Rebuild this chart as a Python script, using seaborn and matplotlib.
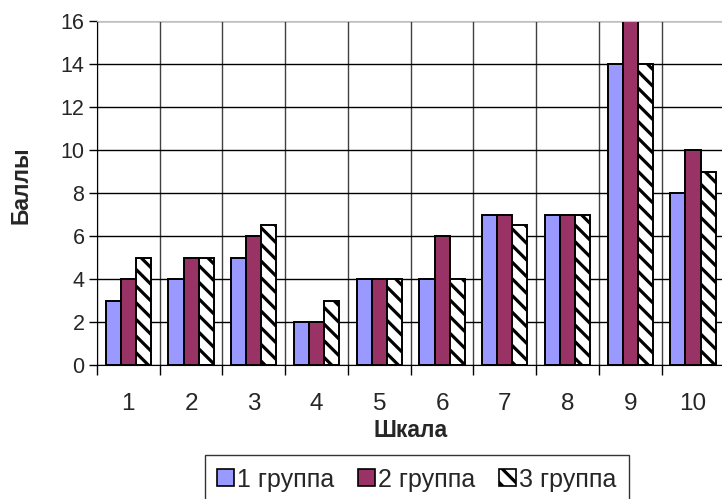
import numpy as np
import pandas as pd
import matplotlib
matplotlib.use('Agg')
import matplotlib.pyplot as plt
from matplotlib.patches import Patch
import seaborn as sns

# Values
scales = ['1', '2', '3', '4', '5', '6', '7', '8', '9', '10']
group1 = [3, 4, 5, 2, 4, 4, 7, 7, 14, 8]
group2 = [4, 5, 6, 2, 4, 6, 7, 7, 16, 10]
group3 = [5, 5, 6.5, 3, 4, 4, 6.5, 7, 14, 9]
groups = ['1 группа', '2 группа', '3 группа']

df = pd.DataFrame({
    'Шкала': scales * 3,
    'Баллы': group1 + group2 + group3,
    'Группа': [groups[0]] * 10 + [groups[1]] * 10 + [groups[2]] * 10,
})

sns.set_style('white')
plt.rcParams['font.family'] = ['Liberation Sans', 'DejaVu Sans']
plt.rcParams['hatch.linewidth'] = 2.3

colors = ['#9999FF', '#993366', '#FFFFFF']
hatch = '\\\\'

fig = plt.figure(figsize=(7.22, 4.99), dpi=100)
ax = fig.add_axes([0.1343, 0.2685, 0.869, 0.689])

sns.barplot(data=df, x='Шкала', y='Баллы', hue='Группа', palette=colors,
            width=0.72, edgecolor='black', linewidth=1.4, saturation=1,
            legend=False, ax=ax)

# hatch the third group
for bar in ax.containers[2]:
    bar.set_hatch(hatch)
    bar.set_edgecolor('black')

ax.set_ylim(0, 16)
ax.set_xlim(-0.5, 9.5)
ax.set_yticks(np.arange(0, 17, 2))
ax.set_xticks(np.arange(-0.5, 10, 1), minor=True)
ax.grid(axis='y', which='major', color='black', linewidth=1)
ax.grid(axis='x', which='minor', color='#404040', linewidth=1)
ax.set_axisbelow(True)

ax.spines['right'].set_visible(False)
ax.spines['top'].set_color('#C0C0C0')
ax.spines['left'].set_color('black')
ax.spines['bottom'].set_color('black')

ax.tick_params(axis='y', which='major', length=6, width=1, color='black',
               labelsize=15.5, left=True, pad=3)
ax.tick_params(axis='x', which='major', length=0, labelsize=17.5, pad=20)
ax.tick_params(axis='x', which='minor', length=7, width=1, color='black',
               bottom=True)

ax.set_xlabel('Шкала', fontsize=16.5, fontweight='bold', labelpad=3)
ax.set_ylabel('Баллы', fontsize=16.5, fontweight='bold')
ax.yaxis.set_label_coords(-0.102, 0.523)

handles = [
    Patch(facecolor=colors[0], edgecolor='black', linewidth=1.2, label=groups[0]),
    Patch(facecolor=colors[1], edgecolor='black', linewidth=1.2, label=groups[1]),
    Patch(facecolor=colors[2], edgecolor='black', linewidth=1.2, hatch=hatch, label=groups[2]),
]
leg = fig.legend(handles=handles, loc='upper center', bbox_to_anchor=(0.5776, 1 - 455 / 499),
                 ncol=3, fontsize=18, frameon=True, fancybox=False,
                 handlelength=0.65, handleheight=0.65, handletextpad=0.15,
                 columnspacing=0.95, borderpad=0.5, borderaxespad=0, edgecolor='black')
leg.get_frame().set_linewidth(1)

fig.savefig('out.png', dpi=100)
